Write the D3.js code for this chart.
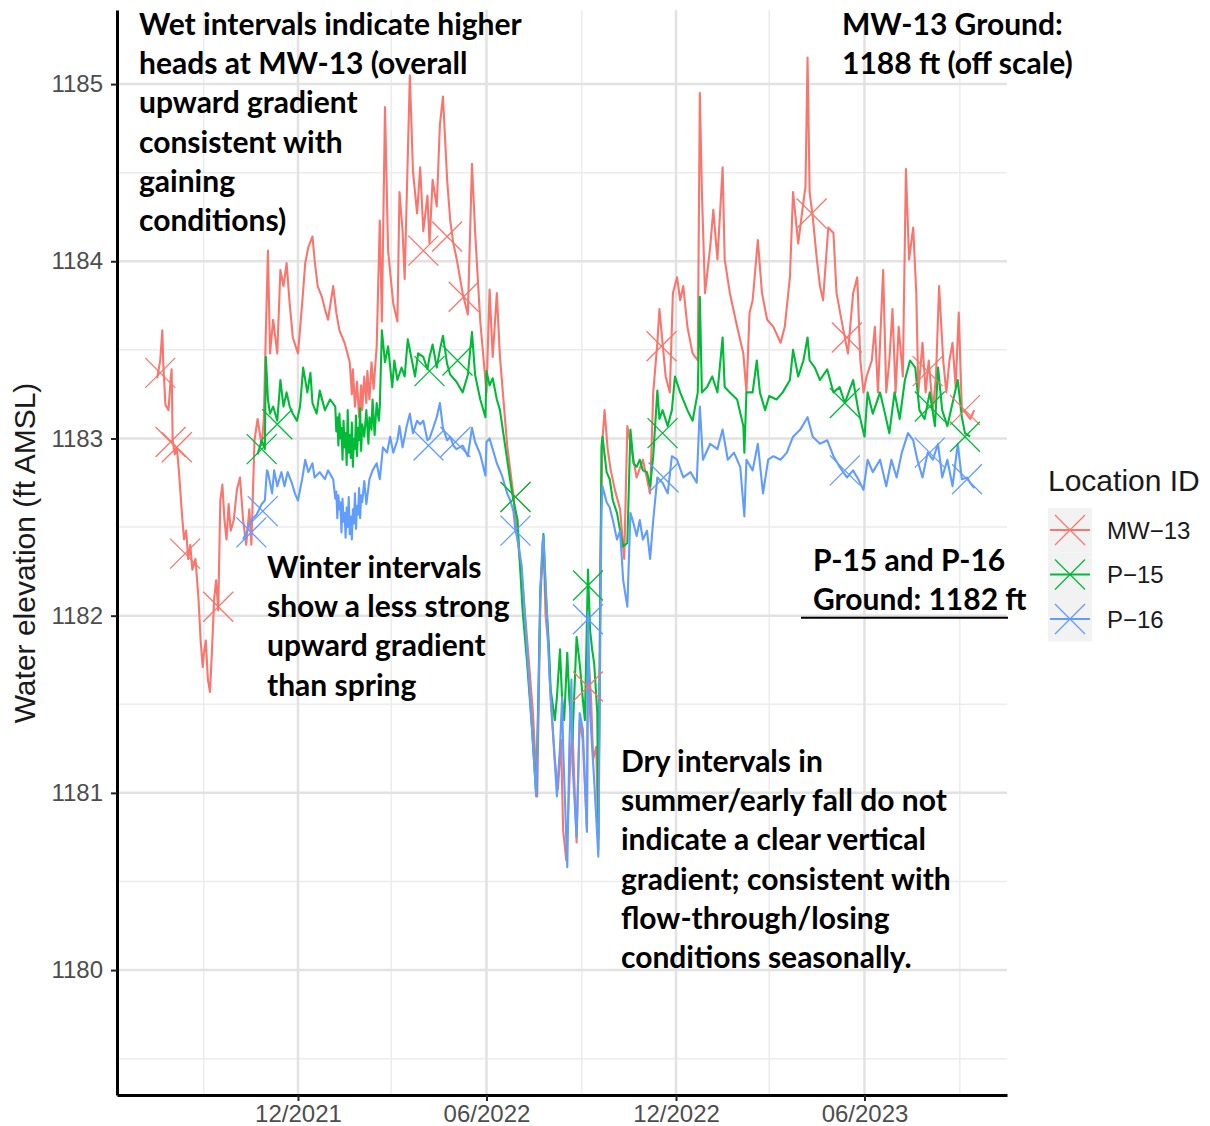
<!DOCTYPE html>
<html>
<head>
<meta charset="utf-8">
<script src="https://cdn.jsdelivr.net/npm/d3@7"></script>
<style>
  body { margin: 0; background: #fff; }
  .tick text { font-family: "Liberation Sans", Arial, sans-serif; }
</style>
</head>
<body>
<div id="visualization"></div>
<script>
/*************************************/
/* Data                              */
/*************************************/

// Location IDs and colours (ggplot default hues)
const locations = ['MW\u221213', 'P\u221215', 'P\u221216'];
const colors = ['#F8766D', '#00BA38', '#619CFF'];

// MW-13 water elevation (ft AMSL)
const mw13 = [
  ['2021-07-18',1183.34],['2021-07-21',1183.44],['2021-07-23',1183.61],['2021-07-24',1183.41],['2021-07-26',1183.19],
  ['2021-07-29',1183.16],['2021-07-31',1183.33],['2021-08-01',1183.39],['2021-08-02',1182.99],['2021-08-04',1182.91],
  ['2021-08-06',1182.95],['2021-08-08',1182.82],['2021-08-11',1182.57],['2021-08-13',1182.43],['2021-08-15',1182.48],
  ['2021-08-17',1182.32],['2021-08-19',1182.40],['2021-08-21',1182.26],['2021-08-24',1182.32],['2021-08-27',1182.09],
  ['2021-08-29',1181.86],['2021-08-31',1181.71],['2021-09-01',1181.78],['2021-09-03',1181.86],['2021-09-05',1181.64],
  ['2021-09-07',1181.57],['2021-09-09',1181.81],['2021-09-11',1182.09],['2021-09-13',1182.20],['2021-09-15',1182.03],
  ['2021-09-17',1182.65],['2021-09-19',1182.74],['2021-09-21',1182.54],['2021-09-23',1182.43],['2021-09-25',1182.63],
  ['2021-09-27',1182.48],['2021-09-30',1182.54],['2021-10-03',1182.71],['2021-10-06',1182.78],['2021-10-09',1182.54],
  ['2021-10-12',1182.40],['2021-10-15',1182.60],['2021-10-17',1182.40],['2021-10-20',1182.99],['2021-10-23',1183.11],
  ['2021-10-27',1182.96],['2021-10-29',1183.11],['2021-10-31',1183.61],['2021-11-02',1184.06],['2021-11-04',1183.48],
  ['2021-11-07',1183.67],['2021-11-11',1183.48],['2021-11-14',1183.95],['2021-11-17',1183.86],['2021-11-20',1183.99],
  ['2021-11-23',1183.76],['2021-11-26',1183.57],['2021-12-01',1183.48],['2021-12-05',1183.76],['2021-12-08',1183.99],
  ['2021-12-11',1184.08],['2021-12-15',1184.14],['2021-12-17',1184.01],['2021-12-20',1183.86],['2021-12-24',1183.80],
  ['2021-12-27',1183.73],['2021-12-30',1183.67],['2022-01-04',1183.86],['2022-01-07',1183.71],['2022-01-10',1183.61],
  ['2022-01-15',1183.54],['2022-01-20',1183.43],['2022-01-22',1183.25],['2022-01-23',1183.39],['2022-01-25',1183.18],
  ['2022-01-27',1183.32],['2022-01-29',1183.12],['2022-01-31',1183.30],['2022-02-01',1183.16],['2022-02-03',1183.35],
  ['2022-02-05',1183.20],['2022-02-06',1183.38],['2022-02-08',1183.22],['2022-02-10',1183.43],['2022-02-12',1183.28],
  ['2022-02-15',1183.52],['2022-02-18',1184.23],['2022-02-20',1183.66],
  ['2022-02-23',1184.87],['2022-02-26',1184.06],['2022-03-03',1183.76],['2022-03-07',1183.66],['2022-03-09',1184.39],
  ['2022-03-12',1184.17],['2022-03-14',1183.90],['2022-03-19',1185.05],['2022-03-22',1184.51],['2022-03-26',1184.27],
  ['2022-03-29',1184.53],['2022-04-01',1184.17],['2022-04-05',1184.37],['2022-04-07',1184.10],['2022-04-10',1184.46],
  ['2022-04-14',1184.31],['2022-04-17',1184.77],['2022-04-20',1184.93],['2022-04-24',1184.46],['2022-04-27',1184.23],
  ['2022-04-30',1184.10],['2022-05-03',1184.02],['2022-05-09',1183.82],['2022-05-14',1183.70],['2022-05-18',1184.55],
  ['2022-05-21',1184.17],['2022-05-26',1183.66],['2022-05-29',1183.46],['2022-06-01',1183.26],['2022-06-04',1183.84],
  ['2022-06-07',1183.46],['2022-06-11',1183.82],['2022-06-14',1183.46],['2022-06-21',1182.96],['2022-06-27',1182.68],
  ['2022-07-01',1182.43],['2022-07-06',1182.17],['2022-07-11',1181.81],['2022-07-16',1181.44],['2022-07-20',1180.98],
  ['2022-07-23',1182.09],['2022-07-26',1182.43],['2022-07-28',1182.01],['2022-07-31',1181.81],['2022-08-02',1181.53],
  ['2022-08-06',1181.19],['2022-08-09',1181.02],['2022-08-12',1181.30],['2022-08-14',1180.79],['2022-08-17',1180.62],
  ['2022-08-21',1181.19],['2022-08-23',1181.36],['2022-08-27',1180.72],['2022-08-30',1181.41],['2022-09-02',1181.30],
  ['2022-09-06',1180.79],['2022-09-07',1181.81],['2022-09-10',1181.53],['2022-09-12',1181.19],['2022-09-15',1181.26],
  ['2022-09-17',1180.68],['2022-09-19',1182.32],['2022-09-21',1182.99],['2022-09-23',1183.16],['2022-09-26',1182.94],
  ['2022-09-29',1182.82],['2022-10-03',1182.71],['2022-10-08',1182.60],['2022-10-12',1182.32],['2022-10-15',1183.07],
  ['2022-10-18',1182.97],['2022-10-24',1182.78],['2022-10-30',1182.88],['2022-11-06',1182.69],['2022-11-09',1183.26],
  ['2022-11-13',1183.54],['2022-11-15',1183.73],['2022-11-18',1183.54],['2022-11-21',1183.35],['2022-11-25',1183.26],
  ['2022-11-28',1183.82],['2022-12-02',1183.91],['2022-12-05',1183.78],['2022-12-08',1183.86],['2022-12-12',1183.63],
  ['2022-12-17',1183.48],['2022-12-22',1183.44],['2022-12-24',1184.95],['2022-12-26',1184.39],['2022-12-29',1183.82],
  ['2023-01-03',1184.08],['2023-01-06',1184.29],['2023-01-10',1184.01],['2023-01-15',1184.53],['2023-01-17',1184.01],
  ['2023-01-22',1183.82],['2023-01-29',1183.63],['2023-02-04',1183.48],['2023-02-07',1183.26],['2023-02-10',1183.71],
  ['2023-02-13',1183.78],['2023-02-18',1184.12],['2023-02-22',1183.82],['2023-02-27',1183.67],['2023-03-05',1183.63],
  ['2023-03-12',1183.54],['2023-03-16',1183.63],['2023-03-21',1183.91],['2023-03-24',1184.39],['2023-03-29',1184.10],
  ['2023-04-02',1184.29],['2023-04-05',1184.42],['2023-04-07',1185.15],['2023-04-09',1184.39],['2023-04-12',1184.25],
  ['2023-04-16',1184.01],['2023-04-19',1183.86],['2023-04-22',1183.78],['2023-04-27',1184.19],['2023-05-02',1184.16],
  ['2023-05-05',1183.82],['2023-05-11',1183.63],['2023-05-16',1183.48],['2023-05-21',1183.82],['2023-05-25',1183.91],
  ['2023-05-28',1183.44],['2023-05-31',1183.26],['2023-06-03',1183.35],['2023-06-08',1183.44],['2023-06-11',1183.63],
  ['2023-06-14',1183.26],['2023-06-19',1183.95],['2023-06-22',1183.26],['2023-06-25',1183.44],['2023-06-28',1183.73],
  ['2023-07-01',1183.26],['2023-07-04',1183.63],['2023-07-08',1183.35],['2023-07-11',1184.52],['2023-07-14',1184.01],
  ['2023-07-18',1184.19],['2023-07-21',1183.82],['2023-07-23',1183.26],['2023-07-27',1183.54],['2023-07-30',1183.26],
  ['2023-08-02',1183.44],['2023-08-06',1183.16],['2023-08-09',1183.35],['2023-08-12',1183.86],['2023-08-16',1183.44],
  ['2023-08-19',1183.26],['2023-08-22',1183.44],['2023-08-25',1183.54],['2023-08-28',1183.29],['2023-08-31',1183.71],
  ['2023-09-03',1183.16],['2023-09-06',1183.15],['2023-09-11',1183.11],['2023-09-15',1183.16]
];

// P-15 water elevation (ft AMSL)
const p15 = [
  ['2021-10-23',1182.91],['2021-10-27',1182.99],['2021-10-30',1182.94],['2021-10-31',1183.46],['2021-11-02',1183.22],
  ['2021-11-04',1183.14],['2021-11-07',1183.18],['2021-11-11',1183.10],['2021-11-14',1183.33],['2021-11-17',1183.18],
  ['2021-11-20',1183.26],['2021-11-23',1183.18],['2021-11-26',1183.14],['2021-11-30',1183.10],['2021-12-03',1183.18],
  ['2021-12-06',1183.40],['2021-12-10',1183.26],['2021-12-13',1183.37],['2021-12-15',1183.20],['2021-12-19',1183.14],
  ['2021-12-22',1183.27],['2021-12-27',1183.16],['2022-01-01',1183.22],['2022-01-06',1183.18],['2022-01-07',1183.04],
  ['2022-01-08',1183.12],['2022-01-09',1182.96],['2022-01-10',1183.14],['2022-01-11',1183.00],['2022-01-12',1183.06],
  ['2022-01-13',1182.88],['2022-01-14',1183.10],['2022-01-15',1182.95],['2022-01-16',1183.03],['2022-01-17',1182.85],
  ['2022-01-18',1183.16],['2022-01-19',1182.92],['2022-01-20',1183.02],['2022-01-21',1182.89],['2022-01-22',1183.09],
  ['2022-01-23',1182.84],['2022-01-24',1183.00],['2022-01-25',1182.94],['2022-01-26',1183.13],['2022-01-27',1182.90],
  ['2022-01-28',1183.06],['2022-01-29',1182.99],['2022-01-30',1183.17],['2022-01-31',1182.93],['2022-02-01',1183.08],
  ['2022-02-03',1183.01],['2022-02-05',1183.16],['2022-02-07',1182.97],['2022-02-08',1183.12],['2022-02-10',1183.05],
  ['2022-02-11',1183.22],['2022-02-13',1183.02],['2022-02-15',1183.20],['2022-02-17',1183.10],['2022-02-18',1183.18],
  ['2022-02-20',1183.61],['2022-02-23',1183.43],['2022-02-26',1183.52],['2022-03-02',1183.29],['2022-03-04',1183.44],
  ['2022-03-07',1183.33],['2022-03-11',1183.40],['2022-03-14',1183.35],['2022-03-17',1183.56],['2022-03-21',1183.44],
  ['2022-03-24',1183.35],['2022-03-27',1183.48],['2022-04-01',1183.46],['2022-04-05',1183.39],['2022-04-07',1183.46],
  ['2022-04-10',1183.53],['2022-04-14',1183.40],['2022-04-17',1183.50],['2022-04-20',1183.58],['2022-04-24',1183.42],
  ['2022-04-27',1183.36],['2022-05-03',1183.32],['2022-05-09',1183.26],['2022-05-14',1183.36],['2022-05-18',1183.60],
  ['2022-05-21',1183.36],['2022-05-26',1183.22],['2022-05-31',1183.12],['2022-06-01',1183.38],['2022-06-04',1183.30],
  ['2022-06-07',1183.34],['2022-06-11',1183.22],['2022-06-14',1183.16],['2022-06-19',1182.96],['2022-06-24',1182.76],
  ['2022-06-27',1182.65],['2022-07-01',1182.54],['2022-07-03',1182.32],['2022-07-06',1182.02],['2022-07-10',1181.75],
  ['2022-07-15',1181.36],['2022-07-19',1180.99],['2022-07-21',1181.53],['2022-07-23',1182.15],['2022-07-26',1182.46],
  ['2022-07-28',1182.15],['2022-07-31',1181.86],['2022-08-02',1181.58],['2022-08-06',1181.41],['2022-08-08',1181.54],
  ['2022-08-11',1181.81],['2022-08-13',1181.53],['2022-08-15',1181.41],['2022-08-18',1181.79],['2022-08-20',1181.53],
  ['2022-08-23',1181.30],['2022-08-27',1181.88],['2022-08-30',1181.73],['2022-09-02',1181.53],['2022-09-04',1181.41],
  ['2022-09-07',1182.26],['2022-09-09',1181.92],['2022-09-11',1181.81],['2022-09-13',1181.73],['2022-09-16',1181.45],
  ['2022-09-17',1180.74],['2022-09-20',1182.95],['2022-09-21',1183.01],['2022-09-25',1182.81],['2022-09-28',1182.77],
  ['2022-10-01',1182.65],['2022-10-05',1182.58],['2022-10-08',1182.48],['2022-10-11',1182.39],['2022-10-15',1182.41],
  ['2022-10-18',1183.05],['2022-10-21',1182.86],['2022-10-24',1182.84],['2022-10-27',1182.88],['2022-10-30',1182.82],
  ['2022-11-03',1182.81],['2022-11-06',1182.73],['2022-11-09',1182.90],['2022-11-13',1183.27],['2022-11-15',1183.11],
  ['2022-11-18',1183.16],['2022-11-23',1183.07],['2022-11-27',1183.16],['2022-11-30',1183.35],['2022-12-05',1183.26],
  ['2022-12-12',1183.16],['2022-12-17',1183.10],['2022-12-22',1183.26],['2022-12-24',1183.80],['2022-12-26',1183.26],
  ['2022-12-31',1183.29],['2023-01-05',1183.35],['2023-01-10',1183.26],['2023-01-15',1183.57],['2023-01-17',1183.29],
  ['2023-01-22',1183.26],['2023-01-29',1183.22],['2023-02-04',1183.07],['2023-02-05',1182.92],['2023-02-07',1183.26],
  ['2023-02-13',1183.26],['2023-02-17',1183.44],['2023-02-20',1183.26],['2023-02-25',1183.16],['2023-03-01',1183.24],
  ['2023-03-08',1183.22],['2023-03-14',1183.26],['2023-03-21',1183.33],['2023-03-24',1183.50],['2023-03-29',1183.35],
  ['2023-04-03',1183.44],['2023-04-07',1183.57],['2023-04-09',1183.44],['2023-04-14',1183.40],['2023-04-19',1183.33],
  ['2023-04-26',1183.39],['2023-05-02',1183.26],['2023-05-08',1183.29],['2023-05-13',1183.20],['2023-05-21',1183.33],
  ['2023-05-26',1183.16],['2023-06-01',1183.01],['2023-06-04',1183.26],['2023-06-09',1183.14],['2023-06-16',1183.26],
  ['2023-06-20',1183.16],['2023-06-25',1183.03],['2023-06-30',1183.26],['2023-07-05',1183.11],['2023-07-10',1183.33],
  ['2023-07-15',1183.44],['2023-07-20',1183.40],['2023-07-24',1183.16],['2023-07-29',1183.11],['2023-08-03',1183.26],
  ['2023-08-08',1183.07],['2023-08-11',1183.40],['2023-08-15',1183.16],['2023-08-20',1183.07],['2023-08-25',1183.20],
  ['2023-08-30',1183.33],['2023-09-03',1183.12],['2023-09-06',1183.03],['2023-09-11',1183.01]
];

// P-16 water elevation (ft AMSL)
const p16 = [
  ['2021-10-09',1182.43],['2021-10-13',1182.48],['2021-10-17',1182.54],['2021-10-22',1182.57],['2021-10-27',1182.63],
  ['2021-10-30',1182.65],['2021-11-01',1182.82],['2021-11-02',1182.81],['2021-11-06',1182.69],['2021-11-08',1182.82],
  ['2021-11-11',1182.73],['2021-11-15',1182.81],['2021-11-18',1182.73],['2021-11-21',1182.81],['2021-11-25',1182.75],
  ['2021-11-28',1182.69],['2021-12-01',1182.65],['2021-12-05',1182.77],['2021-12-08',1182.88],['2021-12-11',1182.81],
  ['2021-12-15',1182.86],['2021-12-17',1182.78],['2021-12-22',1182.81],['2021-12-27',1182.77],['2021-12-30',1182.82],
  ['2022-01-04',1182.77],['2022-01-06',1182.66],['2022-01-07',1182.70],['2022-01-08',1182.55],['2022-01-09',1182.68],
  ['2022-01-10',1182.60],['2022-01-11',1182.64],['2022-01-12',1182.47],['2022-01-13',1182.66],['2022-01-14',1182.53],
  ['2022-01-15',1182.58],['2022-01-16',1182.44],['2022-01-17',1182.61],['2022-01-18',1182.50],['2022-01-19',1182.67],
  ['2022-01-20',1182.46],['2022-01-21',1182.56],['2022-01-22',1182.43],['2022-01-23',1182.60],['2022-01-24',1182.52],
  ['2022-01-25',1182.69],['2022-01-26',1182.49],['2022-01-27',1182.62],['2022-01-28',1182.57],['2022-01-29',1182.72],
  ['2022-01-30',1182.55],['2022-01-31',1182.68],['2022-02-01',1182.64],['2022-02-03',1182.76],['2022-02-05',1182.63],
  ['2022-02-08',1182.77],['2022-02-11',1182.82],['2022-02-15',1182.86],['2022-02-18',1182.77],['2022-02-21',1182.95],
  ['2022-02-25',1182.92],
  ['2022-02-28',1183.01],['2022-03-03',1182.92],['2022-03-07',1182.99],['2022-03-09',1183.07],['2022-03-12',1182.95],
  ['2022-03-16',1183.07],['2022-03-19',1183.14],['2022-03-22',1183.03],['2022-03-26',1183.10],['2022-03-29',1183.08],
  ['2022-04-01',1183.10],['2022-04-05',1182.99],['2022-04-07',1183.00],['2022-04-10',1183.05],['2022-04-14',1183.12],
  ['2022-04-17',1183.20],['2022-04-20',1183.06],['2022-04-24',1182.99],['2022-04-27',1183.01],['2022-04-30',1182.96],
  ['2022-05-03',1182.94],['2022-05-09',1182.96],['2022-05-14',1182.90],['2022-05-18',1183.06],['2022-05-21',1182.98],
  ['2022-05-26',1182.91],['2022-05-31',1182.79],['2022-06-01',1182.98],['2022-06-04',1183.00],['2022-06-07',1182.94],
  ['2022-06-11',1182.86],['2022-06-16',1182.79],['2022-06-21',1182.69],['2022-06-24',1182.65],['2022-06-27',1182.59],
  ['2022-06-29',1182.48],['2022-07-01',1182.43],['2022-07-05',1182.28],['2022-07-10',1181.82],['2022-07-15',1181.36],
  ['2022-07-19',1180.98],['2022-07-21',1181.45],['2022-07-23',1182.11],['2022-07-25',1182.41],['2022-07-26',1182.45],
  ['2022-07-28',1182.20],['2022-07-30',1181.92],['2022-08-01',1181.64],['2022-08-04',1181.36],['2022-08-08',1180.98],
  ['2022-08-11',1181.26],['2022-08-13',1181.54],['2022-08-14',1181.26],['2022-08-18',1180.58],['2022-08-20',1181.26],
  ['2022-08-22',1181.64],['2022-08-23',1181.17],['2022-08-27',1180.75],['2022-08-30',1181.45],['2022-09-02',1181.36],
  ['2022-09-06',1180.78],['2022-09-07',1182.02],['2022-09-09',1181.45],['2022-09-13',1181.07],['2022-09-17',1180.64],
  ['2022-09-20',1182.58],['2022-09-21',1182.73],['2022-09-25',1182.64],['2022-09-28',1182.61],['2022-10-01',1182.54],
  ['2022-10-05',1182.43],['2022-10-08',1182.48],['2022-10-11',1182.20],['2022-10-15',1182.05],['2022-10-18',1182.58],
  ['2022-10-21',1182.52],['2022-10-24',1182.45],['2022-10-27',1182.54],['2022-10-30',1182.43],['2022-11-03',1182.48],
  ['2022-11-06',1182.32],['2022-11-09',1182.54],['2022-11-13',1182.78],['2022-11-18',1182.75],['2022-11-23',1182.69],
  ['2022-11-27',1182.90],['2022-12-02',1182.88],['2022-12-08',1182.78],['2022-12-15',1182.81],['2022-12-21',1182.75],
  ['2022-12-24',1183.18],['2022-12-27',1182.88],['2023-01-03',1182.97],['2023-01-10',1182.94],['2023-01-15',1183.05],
  ['2023-01-20',1182.88],['2023-01-26',1182.92],['2023-02-01',1182.84],['2023-02-05',1182.56],['2023-02-07',1182.88],
  ['2023-02-13',1182.82],['2023-02-18',1182.97],['2023-02-23',1182.69],['2023-02-28',1182.88],['2023-03-05',1182.90],
  ['2023-03-12',1182.88],['2023-03-18',1182.92],['2023-03-24',1183.01],['2023-03-31',1183.05],['2023-04-07',1183.12],
  ['2023-04-12',1183.01],['2023-04-19',1182.97],['2023-04-26',1182.99],['2023-05-02',1182.90],['2023-05-08',1182.84],
  ['2023-05-15',1182.78],['2023-05-21',1182.82],['2023-05-26',1182.77],['2023-05-31',1182.71],['2023-06-04',1182.88],
  ['2023-06-09',1182.81],['2023-06-16',1182.88],['2023-06-22',1182.73],['2023-06-27',1182.88],['2023-07-02',1182.78],
  ['2023-07-07',1182.92],['2023-07-13',1183.03],['2023-07-18',1182.99],['2023-07-22',1182.88],['2023-07-27',1182.78],
  ['2023-08-01',1182.92],['2023-08-06',1182.88],['2023-08-11',1182.97],['2023-08-15',1182.78],['2023-08-20',1182.88],
  ['2023-08-25',1182.73],['2023-08-30',1182.97],['2023-09-03',1182.77],['2023-09-08',1182.78],['2023-09-11',1182.75],
  ['2023-09-15',1182.72]
];

// Point samples drawn as crosses
const mw13Marks = [
  ['2021-07-21',1183.37],['2021-07-31',1182.98],['2021-08-06',1182.95],['2021-08-14',1182.35],['2021-09-15',1182.05],
  ['2022-04-01',1184.06],['2022-04-24',1184.14],['2022-05-10',1183.80],['2022-06-29',1182.67],['2022-09-07',1181.60],
  ['2022-11-17',1183.52],['2023-04-11',1184.27],['2023-05-15',1183.57],['2023-08-01',1183.38],['2023-09-06',1183.16]
];
const p15Marks = [
  ['2021-10-27',1182.94],['2021-11-11',1183.08],['2022-04-07',1183.38],['2022-05-04',1183.44],['2022-06-29',1182.67],
  ['2022-09-07',1182.17],['2022-11-18',1183.03],['2023-05-13',1183.20],['2023-08-03',1183.18],['2023-09-06',1183.01]
];
const p16Marks = [
  ['2021-10-17',1182.47],['2021-10-28',1182.59],['2022-04-06',1182.96],['2022-05-02',1182.98],['2022-06-29',1182.48],
  ['2022-09-07',1181.98],['2022-11-19',1182.78],['2023-05-13',1182.82],['2023-08-03',1182.92],['2023-09-08',1182.77]
];

// Axis ticks
const yTicks = [1180, 1181, 1182, 1183, 1184, 1185];
const yMinor = [1179.5, 1180.5, 1181.5, 1182.5, 1183.5, 1184.5];
const xTicks = ['2021-12-01', '2022-06-01', '2022-12-01', '2023-06-01'];
const xMinor = ['2021-09-01', '2022-03-01', '2022-09-01', '2023-03-01', '2023-09-01'];

// Ground reference (P-15 / P-16)
const groundP = 1182;


/*************************************/
/* Setup                             */
/*************************************/

const width = 1210;
const height = 1126;
const panel = {left: 117, right: 1007, top: 10, bottom: 1095};

const parseDate = d3.timeParse('%Y-%m-%d');
const toPoints = arr => arr.map(d => ({date: parseDate(d[0]), value: d[1]}));

const series = [mw13, p15, p16].map((s, i) => ({
  id: locations[i], color: colors[i], values: toPoints(s)
}));
const marks = [mw13Marks, p15Marks, p16Marks].map((s, i) => ({
  id: locations[i], color: colors[i], values: toPoints(s)
}));

const x = d3.scaleTime()
  .domain([new Date(2021, 5, 9, 6), new Date(2023, 9, 16, 14)])
  .range([panel.left, panel.right]);

const y = d3.scaleLinear()
  .domain([1179.295, 1185.418])
  .range([panel.bottom, panel.top]);

const svg = d3.select('#visualization')
  .append('svg')
  .attr('width', width)
  .attr('height', height)
  .style('display', 'block');


/*************************************/
/* Grid                              */
/*************************************/

const grid = svg.append('g').attr('class', 'grid');

grid.selectAll('.ymin').data(yMinor).join('line')
  .attr('x1', panel.left).attr('x2', panel.right)
  .attr('y1', d => y(d)).attr('y2', d => y(d))
  .attr('stroke', '#ececec').attr('stroke-width', 1.5);

grid.selectAll('.xmin').data(xMinor).join('line')
  .attr('x1', d => x(parseDate(d))).attr('x2', d => x(parseDate(d)))
  .attr('y1', panel.top).attr('y2', panel.bottom)
  .attr('stroke', '#ececec').attr('stroke-width', 1.5);

grid.selectAll('.ymaj').data(yTicks).join('line')
  .attr('x1', panel.left).attr('x2', panel.right)
  .attr('y1', d => y(d)).attr('y2', d => y(d))
  .attr('stroke', '#e2e2e2').attr('stroke-width', 2.5);

grid.selectAll('.xmaj').data(xTicks).join('line')
  .attr('x1', d => x(parseDate(d))).attr('x2', d => x(parseDate(d)))
  .attr('y1', panel.top).attr('y2', panel.bottom)
  .attr('stroke', '#e2e2e2').attr('stroke-width', 2.5);


/*************************************/
/* Lines and crosses                 */
/*************************************/

const line = d3.line()
  .x(d => x(d.date))
  .y(d => y(d.value));

svg.append('g')
  .selectAll('path')
  .data(series)
  .join('path')
    .attr('d', d => line(d.values))
    .attr('fill', 'none')
    .attr('stroke', d => d.color)
    .attr('stroke-width', 2.1)
    .attr('stroke-linejoin', 'round');

const cross = 'M-15,-15L15,15M-15,15L15,-15';

marks.forEach(m => {
  svg.append('g')
    .selectAll('path')
    .data(m.values)
    .join('path')
      .attr('transform', d => `translate(${x(d.date)},${y(d.value)})`)
      .attr('d', cross)
      .attr('fill', 'none')
      .attr('stroke', m.color)
      .attr('stroke-width', 1.3);
});


/*************************************/
/* Axes                              */
/*************************************/

const yAxis = svg.append('g')
  .attr('transform', `translate(${panel.left},0)`)
  .call(d3.axisLeft(y).tickValues(yTicks).tickSize(6).tickSizeOuter(0).tickPadding(8).tickFormat(d3.format('d')));

const xAxis = svg.append('g')
  .attr('transform', `translate(0,${panel.bottom})`)
  .call(d3.axisBottom(x).tickValues(xTicks.map(parseDate)).tickSize(6).tickSizeOuter(0).tickPadding(4)
    .tickFormat(d3.timeFormat('%m/%Y')));

[yAxis, xAxis].forEach(a => {
  a.select('.domain').attr('stroke', '#000').attr('stroke-width', 3);
  a.selectAll('.tick line').attr('stroke', '#222').attr('stroke-width', 2);
  a.selectAll('.tick text').attr('fill', '#4d4d4d').style('font-size', '24px');
});

svg.append('text')
  .attr('transform', 'translate(35,553) rotate(-90)')
  .attr('text-anchor', 'middle')
  .style('font-family', '"Liberation Sans", Arial, sans-serif')
  .style('font-size', '30px')
  .attr('fill', '#1a1a1a')
  .text('Water elevation (ft AMSL)');


/*************************************/
/* Annotations                       */
/*************************************/

const notes = [
  {x: 139, y: 35, lines: ['Wet intervals indicate higher', 'heads at MW-13 (overall', 'upward gradient',
    'consistent with', 'gaining', 'conditions)']},
  {x: 267, y: 578, lines: ['Winter intervals', 'show a less strong', 'upward gradient', 'than spring']},
  {x: 621, y: 772, lines: ['Dry intervals in', 'summer/early fall do not', 'indicate a clear vertical',
    'gradient; consistent with', 'flow-through/losing', 'conditions seasonally.']},
  {x: 842, y: 35, lines: ['MW-13 Ground:', '1188 ft (off scale)']},
  {x: 813, y: 571, lines: ['P-15 and P-16', 'Ground: 1182 ft']}
];

notes.forEach(n => {
  svg.append('text')
    .attr('x', n.x).attr('y', n.y)
    .style('font-family', 'Lato, "Open Sans", sans-serif')
    .style('font-weight', 700)
    .style('font-size', '30px')
    .attr('fill', '#000')
    .selectAll('tspan')
    .data(n.lines)
    .join('tspan')
      .attr('x', n.x)
      .attr('dy', (d, i) => i === 0 ? 0 : 39.2)
      .text(d => d);
});

// Ground line for P-15/P-16
svg.append('line')
  .attr('x1', 801).attr('x2', 1008)
  .attr('y1', y(groundP) + 2).attr('y2', y(groundP) + 2)
  .attr('stroke', '#000').attr('stroke-width', 2);


/*************************************/
/* Legend                            */
/*************************************/

const legend = svg.append('g').attr('transform', 'translate(1048,0)');

legend.append('text')
  .attr('x', 0).attr('y', 491)
  .style('font-family', '"Liberation Sans", Arial, sans-serif')
  .style('font-size', '30px')
  .attr('fill', '#1a1a1a')
  .text('Location ID');

const keys = legend.selectAll('.key')
  .data(series)
  .join('g')
    .attr('transform', (d, i) => `translate(0,${508 + i * 44.5})`);

keys.append('rect')
  .attr('width', 44).attr('height', 44.5)
  .attr('fill', '#f2f2f2');

keys.append('line')
  .attr('x1', 2).attr('x2', 42)
  .attr('y1', 22).attr('y2', 22)
  .attr('stroke', d => d.color).attr('stroke-width', 2);

keys.append('path')
  .attr('transform', 'translate(22,22)')
  .attr('d', cross)
  .attr('fill', 'none')
  .attr('stroke', d => d.color)
  .attr('stroke-width', 1.3);

keys.append('text')
  .attr('x', 59).attr('y', 22)
  .attr('dy', '0.36em')
  .style('font-family', '"Liberation Sans", Arial, sans-serif')
  .style('font-size', '24px')
  .attr('fill', '#1a1a1a')
  .text(d => d.id);
</script>
</body>
</html>
